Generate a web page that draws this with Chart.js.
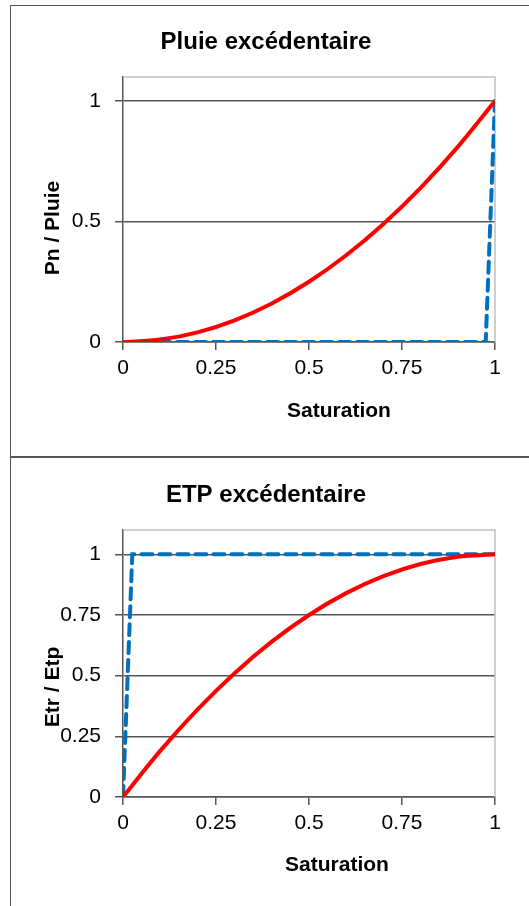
<!DOCTYPE html>
<html>
<head>
  <!-- Chart.js -->
  <script src="https://cdn.jsdelivr.net/npm/chart.js"></script>
  <title>Pluie / ETP excédentaire</title>
  <style>
    body { margin: 0; background: #fff; overflow: hidden; }
    .panel { position: absolute; left: 10px; width: 540px; border: 1px solid #555; background: #fff; }
    #p1 { top: 5px; height: 450px; }
    #p2 { top: 457px; height: 460px; }
    .panel canvas { position: absolute; left: 0; top: 0; }
  </style>
</head>
<body>
  <div class="panel" id="p1"><canvas id="pluie" width="518" height="449"></canvas></div>
  <div class="panel" id="p2"><canvas id="etp" width="518" height="448"></canvas></div>

  <script>
    // Data
    let xTicks = [0, 0.25, 0.5, 0.75, 1];

    // Pluie excédentaire
    let pluieX = [0, 0.1, 0.2, 0.3, 0.4, 0.5, 0.6, 0.7, 0.8, 0.9, 1];
    let pluieY = [0, 0.01, 0.04, 0.09, 0.16, 0.25, 0.36, 0.49, 0.64, 0.81, 1];
    let pluieSeuilX = [0, 0.975, 1];
    let pluieSeuilY = [0, 0, 1];
    let pluieYTicks = [0, 0.5, 1];

    // ETP excédentaire
    let etpX = [0, 0.1, 0.2, 0.3, 0.4, 0.5, 0.6, 0.7, 0.8, 0.9, 1];
    let etpY = [0, 0.19, 0.36, 0.51, 0.64, 0.75, 0.84, 0.91, 0.96, 0.99, 1];
    let etpSeuilX = [0, 0.025, 1];
    let etpSeuilY = [0, 1, 1];
    let etpYTicks = [0, 0.25, 0.5, 0.75, 1];

    const FONT = "'Liberation Sans', Arial, sans-serif";
    const toPoints = (xs, ys) => xs.map((x, i) => ({ x: x, y: ys[i] }));

    // axis titles placed like in the Excel original
    const axisTitles = {
      id: 'axisTitles',
      afterDraw(chart, args, opts) {
        const ctx = chart.ctx;
        ctx.save();
        ctx.fillStyle = '#000';
        ctx.font = 'bold 21px ' + FONT;
        ctx.textAlign = 'center';
        ctx.textBaseline = 'middle';
        ctx.fillText(opts.x.text, opts.x.cx, opts.x.cy);
        ctx.translate(opts.y.cx, opts.y.cy);
        ctx.rotate(-Math.PI / 2);
        ctx.fillText(opts.y.text, 0, 0);
        ctx.restore();
      }
    };

    // light grey top / right edge of the plot area
    const plotFrame = {
      id: 'plotFrame',
      beforeDatasetsDraw(chart) {
        const { ctx, chartArea: a } = chart;
        ctx.save();
        ctx.strokeStyle = '#c0c0c0';
        ctx.lineWidth = 1.5;
        ctx.beginPath();
        ctx.moveTo(a.left, a.top);
        ctx.lineTo(a.right, a.top);
        ctx.lineTo(a.right, a.bottom);
        ctx.stroke();
        ctx.restore();
      }
    };

    function makeChart(id, title, curve, seuil, yTicks, layout) {
      let ctx = document.getElementById(id).getContext('2d');
      return new Chart(ctx, {
        type: 'scatter',
        data: {
          datasets: [{
            data: curve,
            showLine: true,
            borderColor: '#ff0000',
            borderWidth: 4,
            pointRadius: 0,
            cubicInterpolationMode: 'monotone'
          }, {
            data: seuil,
            showLine: true,
            borderColor: '#0070c0',
            borderWidth: 4,
            borderDash: [11, 7],
            borderCapStyle: 'round',
            pointRadius: 0,
            tension: 0
          }]
        },
        options: {
          responsive: false,
          animation: false,
          layout: { padding: { left: 26, right: 34, top: 0, bottom: 0 } },
          plugins: {
            legend: { display: false },
            tooltip: { enabled: false },
            title: {
              display: true,
              text: title,
              color: '#000',
              font: { family: FONT, size: 24, weight: 'bold' },
              padding: { top: layout.titleTop, bottom: layout.titleBottom }
            },
            axisTitles: layout.axisTitles
          },
          scales: {
            x: {
              type: 'linear',
              min: 0,
              max: 1,
              afterBuildTicks: s => { s.ticks = xTicks.map(v => ({ value: v })); },
              afterFit: s => { s.height = layout.xHeight; },
              grid: { drawOnChartArea: false, drawTicks: true, tickLength: 8, color: '#555', lineWidth: 1.5 },
              border: { display: true, color: '#555', width: 1.5 },
              ticks: { color: '#000', font: { family: FONT, size: 21 }, padding: 6, maxRotation: 0, callback: v => String(v) }
            },
            y: {
              type: 'linear',
              min: 0,
              max: 1.1,
              afterBuildTicks: s => { s.ticks = yTicks.map(v => ({ value: v })); },
              afterFit: s => { s.width = 86; },
              grid: { drawOnChartArea: true, drawTicks: true, tickLength: 8, color: '#555', lineWidth: 1.5 },
              border: { display: true, color: '#555', width: 1.5 },
              ticks: { color: '#000', font: { family: FONT, size: 21 }, padding: 14, callback: v => String(v) }
            }
          }
        },
        plugins: [plotFrame, axisTitles]
      });
    }

    makeChart('pluie', 'Pluie excédentaire',
      toPoints(pluieX, pluieY), toPoints(pluieSeuilX, pluieSeuilY), pluieYTicks, {
        titleTop: 21.6, titleBottom: 20.6, xHeight: 113,
        axisTitles: { x: { text: 'Saturation', cx: 328, cy: 405 }, y: { text: 'Pn / Pluie', cx: 42, cy: 222 } }
      });

    makeChart('etp', 'ETP excédentaire',
      toPoints(etpX, etpY), toPoints(etpSeuilX, etpSeuilY), etpYTicks, {
        titleTop: 22.6, titleBottom: 20.6, xHeight: 109,
        axisTitles: { x: { text: 'Saturation', cx: 326, cy: 407 }, y: { text: 'Etr / Etp', cx: 42, cy: 229 } }
      });
  </script>
</body>
</html>
